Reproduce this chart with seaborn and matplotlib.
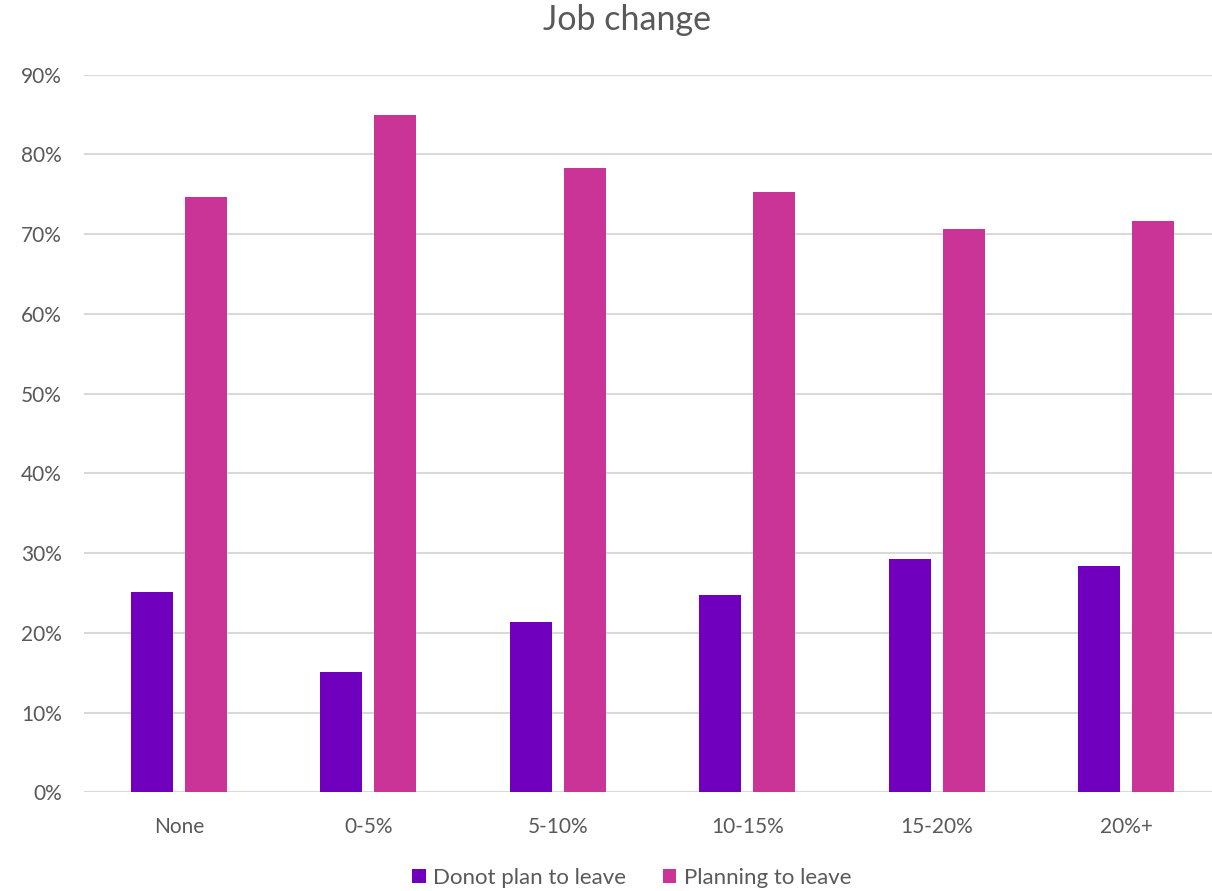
import matplotlib
matplotlib.use("Agg")
import matplotlib.pyplot as plt
import seaborn as sns
import pandas as pd
from matplotlib.ticker import PercentFormatter
from matplotlib.patches import Patch

categories = ["None", "0-5%", "5-10%", "10-15%", "15-20%", "20%+"]
series_names = ["Donot plan to leave", "Planning to leave"]
not_leave = [0.251, 0.151, 0.214, 0.247, 0.292, 0.284]
leaving = [0.746, 0.849, 0.783, 0.753, 0.706, 0.716]
colors = ["#7000BE", "#CB3497"]

df = pd.DataFrame({
    "cat": categories * 2,
    "series": [series_names[0]] * 6 + [series_names[1]] * 6,
    "value": not_leave + leaving,
})

sns.set_theme(style="white")
plt.rcParams["font.family"] = ["Lato", "DejaVu Sans"]
txt = "#595959"

fig = plt.figure(figsize=(12.12, 8.91), dpi=100)
W, H = 1212, 891
left, right, top, bottom = 84, 1212, 74.7, 792.3
ax = fig.add_axes([left / W, 1 - bottom / H, (right - left) / W, (bottom - top) / H])

sns.barplot(data=df, x="cat", y="value", hue="series", order=categories,
            hue_order=series_names, palette=colors, width=0.570, gap=0.222,
            saturation=1, linewidth=0, ax=ax, legend=False)

ax.set_ylim(0, 0.9)
ax.set_xlim(-0.5, 5.5 - 9 / 189.4)
ax.set_yticks([i / 10 for i in range(10)])
ax.yaxis.set_major_formatter(PercentFormatter(1.0, decimals=0))
ax.grid(axis="y", color="#D9D9D9", linewidth=1.5)
ax.set_axisbelow(True)
for s in ax.spines.values():
    s.set_visible(False)
ax.set_xlabel("")
ax.set_ylabel("")
ax.tick_params(axis="y", length=0, pad=16, labelsize=15, labelcolor=txt)
ax.tick_params(axis="x", length=0, pad=18, labelsize=15, labelcolor=txt)

fig.text(627 / W, 1 - 20 / H, "Job change", ha="center", va="center",
         fontsize=24.5, color=txt)

handles = [Patch(facecolor=c, edgecolor="none") for c in colors]
fig.legend(handles, series_names, loc="center", bbox_to_anchor=(632 / W, 1 - 878 / H),
           ncol=2, frameon=False, fontsize=16, labelcolor=txt,
           handlelength=0.6, handleheight=0.6, handletextpad=0.35, columnspacing=1.65)

fig.savefig("out.png", dpi=100, facecolor="white")
